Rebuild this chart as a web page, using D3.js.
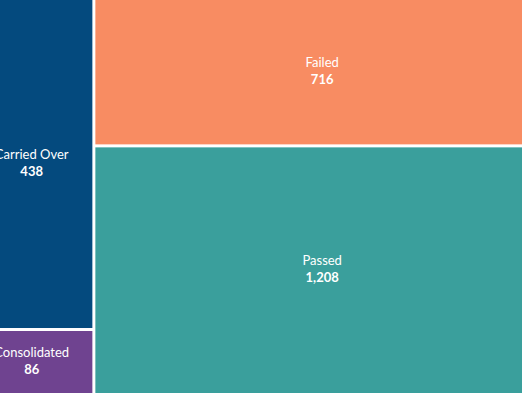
<!DOCTYPE html>
<html><head><meta charset="utf-8">
<script src="https://cdn.jsdelivr.net/npm/d3@7"></script>
<style>html,body{margin:0;padding:0;background:#fff;overflow:hidden}</style>
</head><body>
<svg id="chart" width="522" height="393"></svg>
<script>
const groups = ["left", "right"];
const categories = ["Carried Over", "Consolidated", "Failed", "Passed"];
const categoryGroup = ["left", "left", "right", "right"];
const values = [438, 86, 716, 1208];
const colors = ["#044a7e", "#6f4390", "#f88c62", "#3a9f9c"];

const data = {
  name: "root",
  children: groups.map(g => ({
    name: g,
    children: categories.map((c, i) => ({ name: c, value: values[i], color: colors[i], group: categoryGroup[i] }))
      .filter(d => d.group === g)
  }))
};

const root = d3.hierarchy(data).sum(d => d.value || 0);
d3.treemap()
  .tile(d3.treemapSliceDice)
  .size([578, 393])
  .paddingInner(3)
  .round(false)(root);

const svg = d3.select("#chart");
const g = svg.append("g").attr("transform", "translate(-29,0)");
const fmt = d3.format(",");

const leaf = g.selectAll("g.leaf").data(root.leaves()).join("g").attr("class", "leaf");
leaf.append("rect")
  .attr("x", d => d.x0).attr("y", d => d.y0)
  .attr("width", d => d.x1 - d.x0).attr("height", d => d.y1 - d.y0)
  .attr("fill", d => d.data.color);

leaf.append("text")
  .attr("x", d => (d.x0 + d.x1) / 2)
  .attr("y", d => (d.y0 + d.y1) / 2 - 5)
  .attr("text-anchor", "middle")
  .attr("font-family", "Lato, sans-serif")
  .attr("font-size", 13)
  .attr("fill", "#ffffff")
  .text(d => d.data.name);

leaf.append("text")
  .attr("x", d => (d.x0 + d.x1) / 2)
  .attr("y", d => (d.y0 + d.y1) / 2 + 12)
  .attr("text-anchor", "middle")
  .attr("font-family", "Lato, sans-serif")
  .attr("font-size", 13)
  .attr("font-weight", "bold")
  .attr("fill", "#ffffff")
  .text(d => fmt(d.data.value));
</script>
</body></html>
